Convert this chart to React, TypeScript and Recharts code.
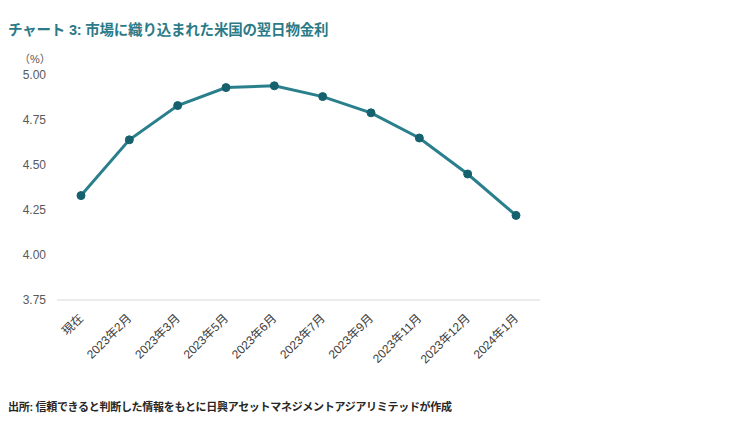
import React from "react";
import { LineChart, Line, XAxis, YAxis } from "recharts";

const categories = ["現在", "2023年2月", "2023年3月", "2023年5月", "2023年6月", "2023年7月", "2023年9月", "2023年11月", "2023年12月", "2024年1月"];
const rates = [4.33, 4.64, 4.83, 4.93, 4.94, 4.88, 4.79, 4.65, 4.45, 4.22];
const yTicks = [3.75, 4.0, 4.25, 4.5, 4.75, 5.0];

const data = categories.map((c, i) => ({ name: c, rate: rates[i] }));

const FONT = "'Liberation Sans', Arial, 'Noto Sans CJK JP', sans-serif";

const XTick = (props: any) => {
  const { x, y, payload } = props;
  return (
    <g transform={`translate(${x + 3},${y + 11})`}>
      <text x={0} y={0} textAnchor="end" transform="rotate(-45)" fill="#404040" fontSize={12} fontFamily={FONT}>
        {payload.value}
      </text>
    </g>
  );
};

export default function App() {
  return (
    <div style={{ position: "absolute", left: 0, top: 0, width: 751, height: 426, background: "#fff", fontFamily: FONT }}>
      <div style={{ position: "absolute", left: 8, top: 18, fontSize: 14.5, fontWeight: "bold", color: "#2b7a87", whiteSpace: "nowrap", letterSpacing: -0.2 }}>
        チャート 3: 市場に織り込まれた米国の翌日物金利
      </div>
      <div style={{ position: "absolute", left: 19, top: 50, fontSize: 11, color: "#595959" }}>（%）</div>
      <div style={{ position: "absolute", left: 8, top: 398, fontSize: 11, fontWeight: "bold", color: "#262626", whiteSpace: "nowrap", letterSpacing: -0.3 }}>
        出所: 信頼できると判断した情報をもとに日興アセットマネジメントアジアリミテッドが作成
      </div>
      <div style={{ position: "absolute", left: 0, top: 0 }}>
        <LineChart width={751} height={426} data={data} margin={{ top: 75, right: 211, bottom: 56, left: 7 }}>
          <XAxis
            dataKey="name"
            padding={{ left: 24, right: 24 }}
            axisLine={{ stroke: "#d9d9d9" }}
            tickLine={false}
            tick={<XTick />}
            interval={0}
            height={70}
          />
          <YAxis
            domain={[3.75, 5]}
            ticks={yTicks}
            tickFormatter={(v: number) => v.toFixed(2)}
            axisLine={false}
            tickLine={false}
            tickMargin={5}
            width={50}
            tick={{ fill: "#595959", fontSize: 12, fontFamily: FONT }}
          />
          <Line
            type="linear"
            dataKey="rate"
            stroke="#2a7f8c"
            strokeWidth={3}
            dot={{ r: 4, fill: "#16616e", stroke: "#16616e", strokeWidth: 1 }}
            isAnimationActive={false}
          />
        </LineChart>
      </div>
    </div>
  );
}
